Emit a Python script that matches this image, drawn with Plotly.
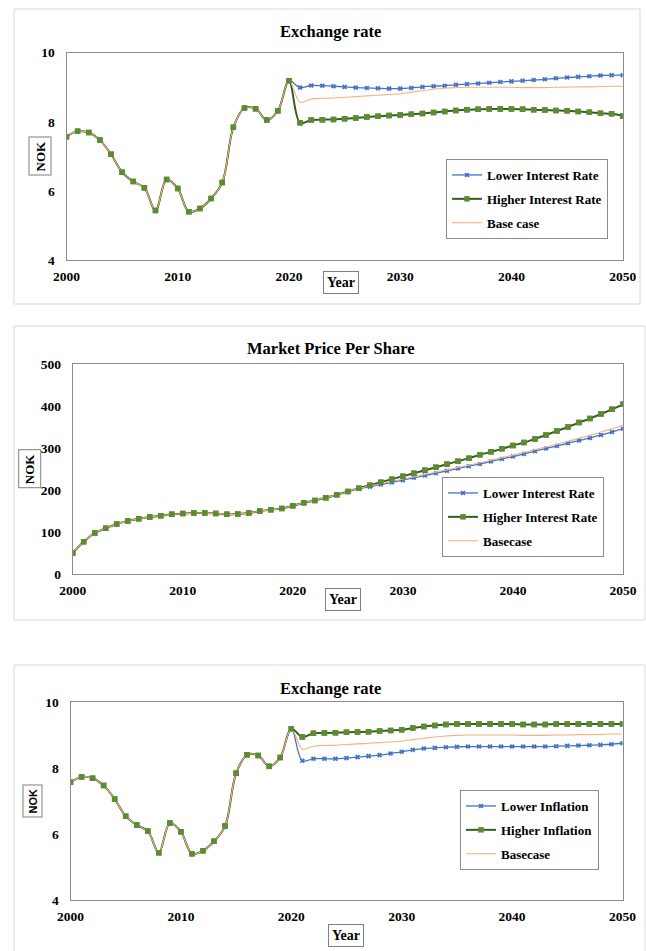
import plotly.graph_objects as go

W, H = 646, 951

years = list(range(2000, 2051))
x_ticks = [2000, 2010, 2020, 2030, 2040, 2050]

# Exchange rate, NOK (shared history 2000-2020, scenarios 2021-2050)
fx_hist = [7.57, 7.73, 7.69, 7.47, 7.06, 6.54, 6.27, 6.09, 5.43, 6.33, 6.07,
           5.40, 5.49, 5.78, 6.24, 7.84, 8.40, 8.38, 8.05, 8.32, 9.19]
fx_lower_rate = [8.99, 9.05, 9.045, 9.03, 9.01, 8.99, 8.98, 8.97, 8.96, 8.96,
                 8.98, 9.01, 9.03, 9.045, 9.07, 9.09, 9.11, 9.13, 9.15, 9.17,
                 9.19, 9.21, 9.23, 9.26, 9.28, 9.30, 9.32, 9.34, 9.35, 9.35]
fx_higher_rate = [7.97, 8.05, 8.06, 8.07, 8.09, 8.11, 8.14, 8.16, 8.18, 8.20,
                  8.22, 8.24, 8.27, 8.30, 8.33, 8.35, 8.36, 8.37, 8.37, 8.37,
                  8.36, 8.35, 8.34, 8.33, 8.32, 8.30, 8.28, 8.25, 8.23, 8.17]
fx_base = [8.57, 8.66, 8.68, 8.69, 8.71, 8.73, 8.75, 8.77, 8.79, 8.81,
           8.86, 8.90, 8.94, 8.97, 8.99, 9.00, 9.00, 9.00, 9.00, 9.00,
           8.99, 8.99, 8.99, 9.00, 9.00, 9.01, 9.01, 9.02, 9.03, 9.03]
fx_lower_infl = [8.22, 8.28, 8.28, 8.28, 8.30, 8.33, 8.36, 8.39, 8.44, 8.49,
                 8.55, 8.59, 8.61, 8.63, 8.64, 8.65, 8.65, 8.65, 8.65, 8.65,
                 8.65, 8.65, 8.65, 8.66, 8.67, 8.68, 8.69, 8.70, 8.72, 8.75]
fx_higher_infl = [8.94, 9.05, 9.06, 9.07, 9.08, 9.09, 9.10, 9.12, 9.14, 9.16,
                  9.21, 9.26, 9.29, 9.32, 9.33, 9.33, 9.33, 9.33, 9.33, 9.33,
                  9.32, 9.32, 9.32, 9.33, 9.33, 9.33, 9.33, 9.33, 9.33, 9.33]

# Market price per share, NOK (shared history 2000-2025, scenarios 2026-2050)
mp_hist = [50, 77, 97.5, 109, 119, 126, 131.5, 135.5, 138.7, 142, 144, 145, 145,
           144, 142, 142.6, 145, 150, 153, 156, 162.4, 169.6, 175, 181.5, 188.6, 196.5]
mp_lower_rate = [203, 208, 213, 218, 223.5, 229, 234.5, 240, 245.6, 251, 256.7,
                 262, 268, 274, 279.7, 286, 292.4, 298.7, 305, 311.4, 317.7, 324,
                 331, 338, 346]
mp_higher_rate = [204.4, 211.6, 218.7, 225.8, 233, 240, 247, 254, 261.5, 268.6,
                  275.8, 283.7, 290.8, 298, 306, 313, 321.7, 331, 340.7, 350,
                  360.5, 370, 381, 392, 404]
mp_base = [204, 209.5, 215, 220.5, 226, 231.5, 237, 242.5, 248, 253.5, 259, 265,
           271, 277, 283, 289.5, 296, 302.5, 309, 316, 323, 330, 338, 346, 354]

BLUE = "#4472C4"
GREEN_LINE = "#385D23"
GREEN_MARK = "#5B8C32"
ORANGE = "#F4B183"
SERIF = "Liberation Serif"


def px_x(p):
    return p / W


def px_y(p):
    return 1 - p / H


fig = go.Figure()

panels = [
    dict(ax="", legend="legend",
         names=["Lower Interest Rate", "Higher Interest Rate", "Base case"],
         series=[fx_hist + fx_lower_rate, fx_hist + fx_higher_rate, fx_hist + fx_base]),
    dict(ax="2", legend="legend2",
         names=["Lower Interest Rate", "Higher Interest Rate", "Basecase"],
         series=[mp_hist + mp_lower_rate, mp_hist + mp_higher_rate, mp_hist + mp_base]),
    dict(ax="3", legend="legend3",
         names=["Lower Inflation", "Higher Inflation", "Basecase"],
         series=[fx_hist + fx_lower_infl, fx_hist + fx_higher_infl, fx_hist + fx_base]),
]

for i, p in enumerate(panels):
    xa, ya = "x" + p["ax"], "y" + p["ax"]
    low, high, base = p["series"]
    fig.add_trace(go.Scatter(
        x=years, y=low, name=p["names"][0], xaxis=xa, yaxis=ya,
        mode="lines+markers", line=dict(color=BLUE, width=1.3, shape="spline", smoothing=1),
        marker=dict(symbol="x", size=4.5, color=BLUE),
        legend=p["legend"], legendgroup=f"l{i}a", legendrank=1))
    fig.add_trace(go.Scatter(
        x=years, y=high, name=p["names"][1], xaxis=xa, yaxis=ya,
        mode="lines+markers", line=dict(color=GREEN_LINE, width=2, shape="spline", smoothing=1),
        marker=dict(symbol="square", size=5.5, color=GREEN_MARK),
        legend=p["legend"], legendgroup=f"l{i}b", legendrank=2))
    fig.add_trace(go.Scatter(
        x=years, y=base, name=p["names"][2], xaxis=xa, yaxis=ya,
        mode="lines", line=dict(color=ORANGE, width=1.1, shape="spline", smoothing=1),
        legend=p["legend"], legendgroup=f"l{i}c", legendrank=3))
    # green markers redrawn above the thin base-case line
    fig.add_trace(go.Scatter(
        x=years, y=high, xaxis=xa, yaxis=ya, mode="markers", showlegend=False,
        hoverinfo="skip", marker=dict(symbol="square", size=5.5, color=GREEN_MARK)))

tick_font = dict(family=SERIF, size=13.5, color="black", weight="bold")

# plot-area rectangles in pixels: (left, right, top, bottom)
areas = [(66.5, 622.7, 52.7, 260), (72.7, 623, 364, 574), (70.5, 622.5, 702, 900)]
y_ranges = [(4, 10, 2), (0, 500, 100), (4, 10, 2)]

layout = dict(
    template="none",
    width=W, height=H, margin=dict(l=0, r=0, t=0, b=0, autoexpand=False),
    paper_bgcolor="white", plot_bgcolor="white", showlegend=True,
)

for i, ((l, r, t, b), (y0, y1, dy)) in enumerate(zip(areas, y_ranges)):
    sfx = "" if i == 0 else str(i + 1)
    anchor = "x" + ("" if i == 0 else str(i + 1))
    yanchor = "y" + ("" if i == 0 else str(i + 1))
    layout["xaxis" + sfx] = dict(
        domain=[px_x(l), px_x(r)], anchor=yanchor, range=[2000, 2050],
        tickvals=x_ticks, showgrid=False, zeroline=False, showline=True,
        linecolor="#8C8C8C", linewidth=1.2, mirror=True, ticks="",
        tickfont=tick_font, ticklabelstandoff=4, automargin=False)
    layout["yaxis" + sfx] = dict(
        domain=[px_y(b), px_y(t)], anchor=anchor, range=[y0, y1], dtick=dy,
        showgrid=False, zeroline=False, showline=True, linecolor="#8C8C8C",
        linewidth=1.2, mirror=True, ticks="", tickfont=tick_font,
        ticklabelstandoff=8, automargin=False)

legend_common = dict(
    bgcolor="white", bordercolor="#8C8C8C", borderwidth=1,
    font=dict(family=SERIF, size=13, color="black", weight="bold"),
    xanchor="left", yanchor="top", tracegroupgap=4, itemwidth=30,
    traceorder="grouped")
layout["legend"] = dict(x=px_x(446), y=px_y(159), **legend_common)
layout["legend2"] = dict(x=px_x(442), y=px_y(477), **legend_common)
layout["legend3"] = dict(x=px_x(460), y=px_y(790), **legend_common)

fig.update_layout(**layout)

# chart-area frames
frames = [(14, 640, 9, 304), (14, 645, 326, 620), (14, 645, 665, 960)]
for (l, r, t, b) in frames:
    fig.add_shape(type="rect", xref="paper", yref="paper",
                  x0=px_x(l), x1=px_x(r), y0=px_y(b), y1=px_y(t),
                  line=dict(color="#D9D9D9", width=1), fillcolor="rgba(0,0,0,0)",
                  layer="below")

titles = [("Exchange rate", 330.5, 31.7), ("Market Price Per Share", 330.5, 348.3),
          ("Exchange rate", 330.5, 688.3)]
for text, cx, cy in titles:
    fig.add_annotation(text=text, xref="paper", yref="paper", x=px_x(cx), y=px_y(cy),
                       xanchor="center", yanchor="middle", showarrow=False,
                       font=dict(family=SERIF, size=16.5, color="black", weight="bold"))

# boxed axis titles
year_boxes = [(340.5, 282.5), (343, 599.5), (346, 935.5)]
for cx, cy in year_boxes:
    fig.add_annotation(text="Year", xref="paper", yref="paper", x=px_x(cx), y=px_y(cy),
                       xanchor="center", yanchor="middle", showarrow=False,
                       bordercolor="#7F7F7F", borderwidth=1, borderpad=3, bgcolor="white",
                       font=dict(family=SERIF, size=14, color="black", weight="bold"))

nok_boxes = [(40.5, 156, SERIF, 13), (29.7, 468.5, SERIF, 13),
             (32.5, 801, "Liberation Sans", 11)]
for cx, cy, fam, sz in nok_boxes:
    fig.add_annotation(text="NOK", xref="paper", yref="paper", x=px_x(cx), y=px_y(cy),
                       xanchor="center", yanchor="middle", showarrow=False, textangle=-90,
                       bordercolor="#7F7F7F", borderwidth=1, borderpad=3, bgcolor="white",
                       font=dict(family=fam, size=sz, color="black", weight="bold"))

fig.write_html("out.html")
